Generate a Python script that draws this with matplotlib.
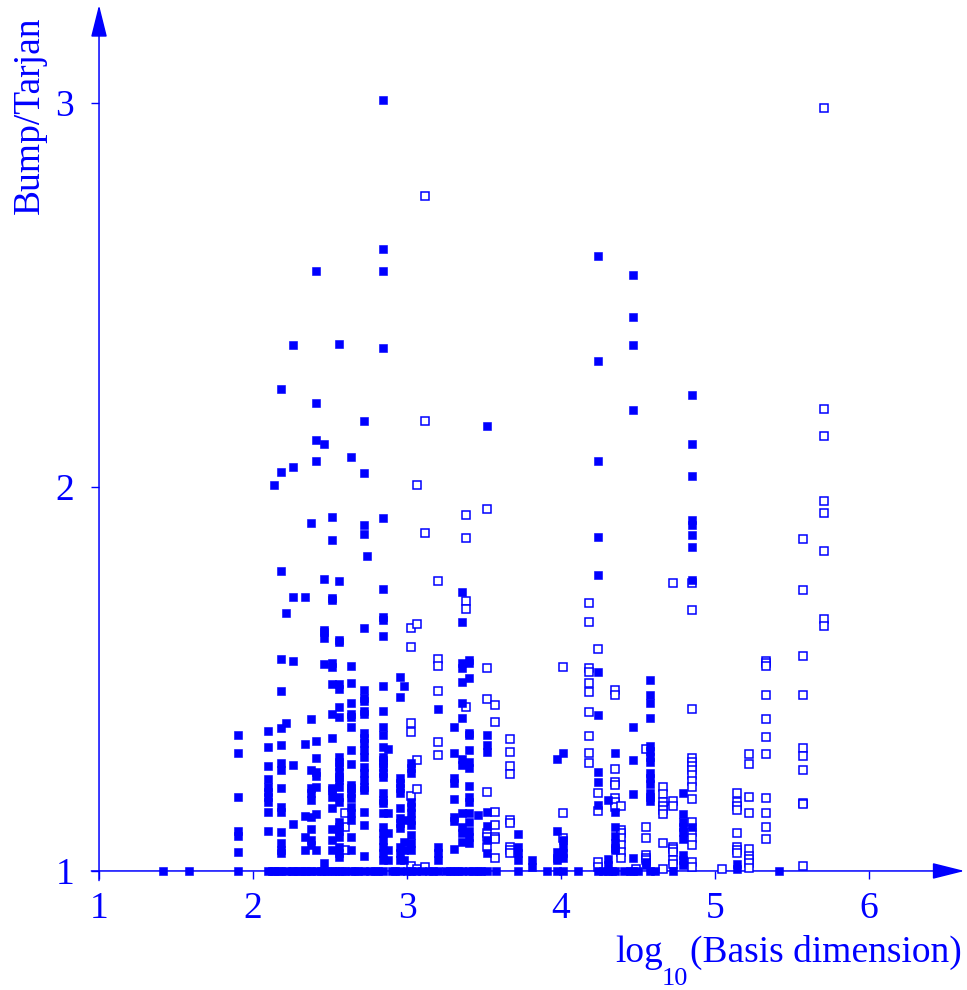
import numpy as np
import matplotlib.pyplot as plt

plt.rcParams['font.family'] = 'Liberation Serif'

# filled squares: one column per log10(dimension), ratios listed per column
solid_cols = [1.416, 1.584, 1.903, 2.097, 2.136, 2.182, 2.214, 2.260, 2.338, 2.377,
              2.409, 2.461, 2.513, 2.558, 2.636, 2.721, 2.740, 2.844, 2.877, 2.955,
              2.981, 3.026, 3.201, 3.305, 3.357, 3.403, 3.461, 3.519, 3.721, 3.812,
              3.974, 4.013, 4.240, 4.305, 4.351, 4.468, 4.552, 4.578, 4.727, 4.792,
              4.851, 5.143, 5.416]
solid_vals = [
    [1.0],
    [1.0],
    [1.354, 1.307, 1.193, 1.104, 1.091, 1.049, 1.0],
    [1.365, 1.323, 1.273, 1.240, 1.219, 1.206, 1.193, 1.180, 1.154, 1.104, 1.0],
    [2.005, 1.0],
    [2.255, 2.039, 1.781, 1.552, 1.469, 1.372, 1.328, 1.281, 1.263, 1.216, 1.167,
     1.154, 1.102, 1.073, 1.055, 1.047, 1.0],
    [1.672, 1.385, 1.0],
    [2.370, 2.052, 1.714, 1.547, 1.276, 1.122, 1.0],
    [1.714, 1.331, 1.143, 1.089, 1.055, 1.0],
    [1.906, 1.396, 1.263, 1.216, 1.203, 1.185, 1.141, 1.109, 1.081, 1.068, 1.0],
    [2.563, 2.219, 2.122, 2.068, 1.339, 1.294, 1.258, 1.247, 1.219, 1.148, 1.055, 1.0],
    [2.112, 1.760, 1.628, 1.622, 1.607, 1.539, 1.02, 1.0],
    [1.922, 1.862, 1.711, 1.706, 1.542, 1.531, 1.487, 1.409, 1.346, 1.216, 1.211,
     1.193, 1.164, 1.109, 1.081, 1.055, 1.0],
    [2.372, 1.755, 1.602, 1.596, 1.487, 1.474, 1.427, 1.401, 1.297, 1.284, 1.273,
     1.258, 1.245, 1.237, 1.219, 1.193, 1.180, 1.128, 1.115, 1.104, 1.089, 1.063,
     1.047, 1.036, 1.0],
    [2.078, 1.534, 1.490, 1.438, 1.409, 1.401, 1.375, 1.315, 1.279, 1.224, 1.216,
     1.203, 1.190, 1.167, 1.151, 1.133, 1.089, 1.055, 1.0],
    [2.172, 2.036, 1.901, 1.878, 1.633, 1.471, 1.451, 1.443, 1.417, 1.409, 1.359,
     1.346, 1.333, 1.315, 1.297, 1.271, 1.255, 1.237, 1.219, 1.211, 1.154, 1.120,
     1.039, 1.0],
    [1.820],
    [3.008, 2.620, 2.563, 2.362, 1.919, 1.734, 1.661, 1.654, 1.612, 1.482, 1.417,
     1.375, 1.354, 1.323, 1.297, 1.289, 1.281, 1.271, 1.255, 1.245, 1.203, 1.185,
     1.177, 1.151, 1.115, 1.099, 1.081, 1.063, 1.047, 1.029, 1.0],
    [1.318, 1.151, 1.099, 1.055, 1.029],
    [1.505, 1.453, 1.242, 1.229, 1.216, 1.203, 1.164, 1.138, 1.125, 1.112, 1.063,
     1.047, 1.029, 1.0],
    [1.482, 1.133, 1.076, 1.055, 1.029],
    [1.281, 1.268, 1.255, 1.180, 1.167, 1.151, 1.133, 1.120, 1.094, 1.073, 1.055, 1.0],
    [1.422, 1.063, 1.047, 1.029, 1.0],
    [1.375, 1.307, 1.242, 1.229, 1.188, 1.141, 1.130, 1.057, 1.0],
    [1.727, 1.648, 1.542, 1.529, 1.492, 1.438, 1.398, 1.292, 1.276, 1.151, 1.115,
     1.099, 1.076, 1.0],
    [1.549, 1.542, 1.503, 1.359, 1.354, 1.315, 1.284, 1.268, 1.221, 1.193, 1.180,
     1.151, 1.128, 1.104, 1.089, 1.073, 1.0],
    [1.146, 1.0],
    [2.159, 1.354, 1.328, 1.310, 1.154, 1.117, 1.081, 1.047, 1.0],
    [1.096, 1.063, 1.047, 1.029, 1.0],
    [1.029, 1.010],
    [1.292, 1.104, 1.049, 1.034, 1.029, 1.0],
    [1.307, 1.081, 1.063, 1.047, 1.034, 1.0],
    [2.602, 2.328, 2.068, 1.870, 1.771, 1.518, 1.406, 1.258, 1.232, 1.172, 1.0],
    [1.185, 1.031, 1.016, 1.0],
    [1.307, 1.154, 1.115, 1.091, 1.073, 1.060, 1.055, 1.0],
    [2.552, 2.443, 2.370, 2.201, 1.375, 1.289, 1.201, 1.034, 1.0],
    [1.023, 1.016],
    [1.497, 1.458, 1.438, 1.398, 1.326, 1.313, 1.297, 1.284, 1.255, 1.242, 1.227,
     1.203, 1.193, 1.182, 1.0],
    [1.0],
    [1.203, 1.148, 1.128, 1.115, 1.102, 1.083, 1.042, 1.029, 1.016],
    [2.240, 2.112, 2.029, 1.914, 1.901, 1.875, 1.844, 1.758, 1.115],
    [1.018, 1.005],
    [1.0],
]
# extra filled points sitting on ratio = 1
solid_floor = [2.12, 2.16, 2.25, 2.29, 2.31, 2.35, 2.44, 2.48, 2.53, 2.58, 2.60,
               2.66, 2.68, 2.76, 2.79, 2.81, 2.90, 2.92, 3.00, 3.06, 3.10, 3.14,
               3.17, 3.25, 3.28, 3.33, 3.43, 3.48, 3.58, 3.91, 4.11, 4.27, 4.33,
               4.41, 4.45, 4.50, 4.61]

# open squares
hollow_cols = [2.600, 3.026, 3.065, 3.117, 3.201, 3.383, 3.519, 3.571, 3.669, 4.013,
               4.182, 4.240, 4.351, 4.390, 4.487, 4.552, 4.662, 4.727, 4.851, 5.045,
               5.143, 5.221, 5.331, 5.571, 5.708]
hollow_vals = [
    [1.151, 1.115, 1.055],
    [1.633, 1.583, 1.385, 1.362, 1.195, 1.013],
    [2.005, 1.643, 1.289, 1.214, 1.005],
    [2.758, 2.172, 1.880, 1.010],
    [1.755, 1.552, 1.534, 1.469, 1.336, 1.302],
    [1.927, 1.867, 1.703, 1.682, 1.427],
    [1.943, 1.529, 1.448, 1.206, 1.099, 1.089, 1.063],
    [1.432, 1.388, 1.154, 1.120, 1.089, 1.083, 1.034],
    [1.344, 1.310, 1.273, 1.253, 1.133, 1.125, 1.063, 1.055, 1.047],
    [1.531, 1.151, 1.086],
    [1.698, 1.648, 1.529, 1.518, 1.490, 1.466, 1.414, 1.352, 1.307, 1.281],
    [1.578, 1.203, 1.156, 1.023, 1.010],
    [1.471, 1.458, 1.266, 1.232, 1.224, 1.190, 1.180, 1.167],
    [1.169, 1.107, 1.099, 1.086, 1.068, 1.049, 1.034],
    [1.005],
    [1.318, 1.115, 1.086, 1.042, 1.034, 1.029],
    [1.219, 1.201, 1.180, 1.169, 1.159, 1.148, 1.073, 1.005],
    [1.750, 1.182, 1.169, 1.063, 1.057, 1.049, 1.029, 1.018],
    [1.750, 1.680, 1.422, 1.294, 1.284, 1.273, 1.263, 1.250, 1.234, 1.219, 1.188,
     1.128, 1.102, 1.086, 1.068, 1.023, 1.010],
    [1.005],
    [1.203, 1.180, 1.169, 1.159, 1.099, 1.063, 1.055, 1.047],
    [1.305, 1.279, 1.193, 1.151, 1.057, 1.039, 1.031, 1.021, 1.008],
    [1.547, 1.542, 1.534, 1.458, 1.396, 1.349, 1.305, 1.190, 1.151, 1.115, 1.083],
    [1.865, 1.732, 1.560, 1.458, 1.320, 1.299, 1.263, 1.177, 1.174, 1.013],
    [2.987, 2.203, 2.133, 1.964, 1.932, 1.833, 1.656, 1.638],
]

xticks = [1, 2, 3, 4, 5, 6]
yticks = [1, 2, 3]


def expand(cols, vals):
    xs = np.concatenate([np.full(len(v), c) for c, v in zip(cols, vals)])
    ys = np.concatenate([np.asarray(v, float) for v in vals])
    return xs, ys


sx, sy = expand(solid_cols, solid_vals)
sx = np.concatenate([sx, solid_floor])
sy = np.concatenate([sy, np.ones(len(solid_floor))])
hx, hy = expand(hollow_cols, hollow_vals)

blue = '#0000ff'
fig = plt.figure(figsize=(9.67, 9.9), dpi=100)
ax = fig.add_axes([0, 0, 1, 1])
ax.set_xlim(0.357, 6.636)
ax.set_ylim(0.690, 3.268)

for s in ax.spines.values():
    s.set_visible(False)
ax.spines['left'].set_position(('data', 1))
ax.spines['bottom'].set_position(('data', 1))

# axis lines with arrow heads
arrow = dict(arrowstyle='-|>,head_length=1.0,head_width=0.25', color=blue,
             lw=1.1, mutation_scale=20, shrinkA=0, shrinkB=0)
ax.annotate('', xy=(6.62, 1), xytext=(0.95, 1), arrowprops=arrow)
ax.annotate('', xy=(1, 3.255), xytext=(1, 0.975), arrowprops=arrow)

ax.set_xticks(xticks)
ax.set_yticks(yticks)
ax.tick_params(direction='out', length=6, width=1, color=blue, labelcolor=blue,
               labelsize=27)
ax.tick_params(axis='x', pad=9)
ax.tick_params(axis='y', pad=12)

ax.plot(hx, hy, 's', ms=5.3, mfc='white', mec=blue, mew=1.1, zorder=4, clip_on=False)
ax.plot(sx, sy, 's', ms=5.5, mfc=blue, mec=blue, mew=0.4, zorder=5, clip_on=False)

ax.text(0.552, 2.969, 'Bump/Tarjan', rotation=90, ha='center', va='center',
        fontsize=27, color=blue)
ax.text(4.351, 0.763, 'log', ha='left', va='baseline', fontsize=27, color=blue)
ax.text(4.656, 0.703, '10', ha='left', va='baseline', fontsize=19, color=blue)
ax.text(6.604, 0.763, '(Basis dimension)', ha='right', va='baseline',
        fontsize=27, color=blue)

fig.savefig('out.png', dpi=100)
